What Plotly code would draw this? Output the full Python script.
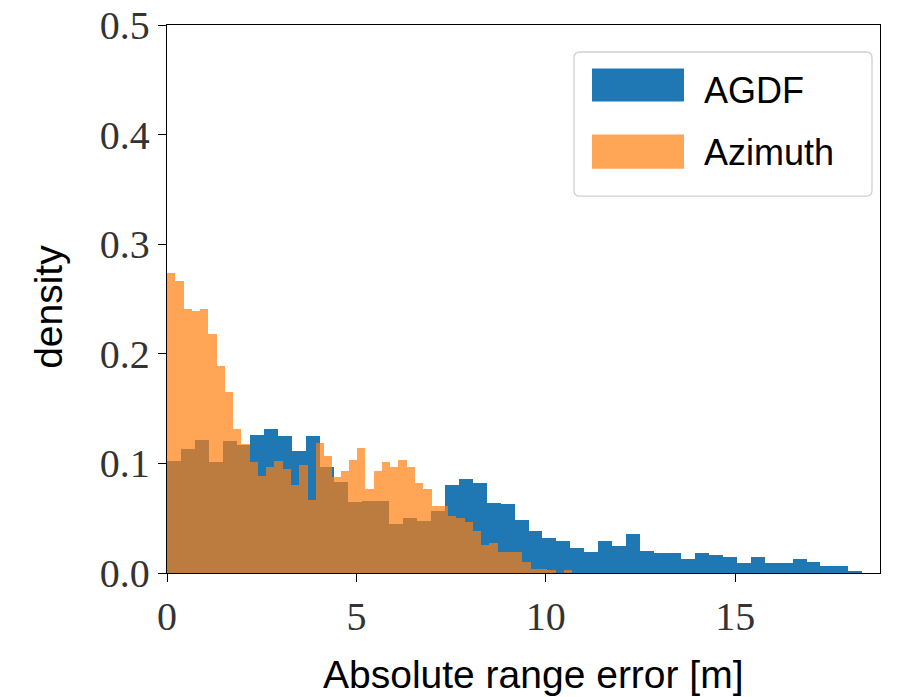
import numpy as np
import plotly.graph_objects as go

# ---- data (densities) ----
agdf_density = [
    0.102, 0.113, 0.121, 0.101, 0.120, 0.117, 0.126, 0.131, 0.125, 0.111,
    0.125, 0.097, 0.083, 0.065, 0.066, 0.066, 0.045, 0.050, 0.047, 0.057,
    0.080, 0.086, 0.082, 0.064, 0.063, 0.048, 0.038, 0.032, 0.029, 0.0225,
    0.0194, 0.0289, 0.0243, 0.036, 0.0197, 0.0185, 0.0185, 0.013, 0.0178, 0.0163,
    0.0145, 0.0093, 0.0145, 0.0093, 0.0093, 0.0127, 0.0096, 0.0066, 0.0066, 0.0014,
]
azimuth_density = [
    0.274, 0.266, 0.241, 0.239, 0.241, 0.218, 0.189, 0.165, 0.131, 0.118,
    0.101, 0.0885, 0.0965, 0.1026, 0.095, 0.080, 0.099, 0.0665, 0.1185, 0.107,
    0.088, 0.093, 0.103, 0.114, 0.077, 0.093, 0.101, 0.0965, 0.103, 0.0965,
    0.082, 0.077, 0.061, 0.061, 0.052, 0.0505, 0.0466, 0.038, 0.026, 0.027,
    0.019, 0.019, 0.019, 0.0096, 0.0038, 0.0035, 0.0023, 0.0, 0.003, 0.0,
]
AGDF_BIN_START = 0.0
AGDF_BIN_WIDTH = 0.367
AZ_BIN_START = 0.0
AZ_BIN_WIDTH = 0.2182

x_tick_vals = [0, 5, 10, 15]
y_tick_vals = [0.0, 0.1, 0.2, 0.3, 0.4, 0.5]
series_names = ["AGDF", "Azimuth"]
x_title = "Absolute range error [m]"
y_title = "density"

BLUE = "#1f77b4"
ORANGE = "#ff7f0e"

agdf_centers = AGDF_BIN_START + AGDF_BIN_WIDTH * (np.arange(len(agdf_density)) + 0.5)
az_centers = AZ_BIN_START + AZ_BIN_WIDTH * (np.arange(len(azimuth_density)) + 0.5)

fig = go.Figure()
fig.add_trace(go.Bar(
    x=agdf_centers, y=agdf_density, width=AGDF_BIN_WIDTH, name=series_names[0],
    marker=dict(color=BLUE, line=dict(width=0)), showlegend=False,
))
fig.add_trace(go.Bar(
    x=az_centers, y=azimuth_density, width=AZ_BIN_WIDTH, name=series_names[1],
    marker=dict(color=ORANGE, line=dict(width=0)), opacity=0.7, showlegend=False,
))

# page body has an 8px margin, so the figure is sized/offset to compensate
tick_font = dict(family="Liberation Serif, DejaVu Serif, serif", size=40, color="#333333")
fig.update_layout(
    width=892, height=689,
    margin=dict(l=159, r=20, t=17, b=124, autoexpand=False),
    paper_bgcolor="white", plot_bgcolor="white",
    barmode="overlay", bargap=0,
    xaxis=dict(
        range=[0, 18.82], tickvals=x_tick_vals, ticktext=[str(v) for v in x_tick_vals],
        ticks="outside", ticklen=8, tickwidth=1.3, tickcolor="black",
        showline=True, linecolor="black", linewidth=1.3, mirror=True,
        showgrid=False, zeroline=False, tickfont=tick_font, automargin=False,
        ticklabeloverflow="allow",
    ),
    yaxis=dict(
        range=[0, 0.5], tickvals=y_tick_vals, ticktext=[f"{v:.1f}" for v in y_tick_vals],
        ticks="outside", ticklen=8, tickwidth=1.3, tickcolor="black",
        showline=True, linecolor="black", linewidth=1.3, mirror=True,
        showgrid=False, zeroline=False, tickfont=tick_font, automargin=False,
        ticklabeloverflow="allow",
    ),
    font=dict(family="Liberation Sans, Arial, sans-serif", color="black"),
)

# axis titles
fig.add_annotation(text=x_title, xref="paper", yref="paper", x=0.514, y=-0.186,
                   showarrow=False, font=dict(size=39, family="Liberation Sans, Arial, sans-serif"),
                   xanchor="center", yanchor="middle")
fig.add_annotation(text=y_title, xref="paper", yref="paper", x=-0.166, y=0.485,
                   showarrow=False, textangle=-90,
                   font=dict(size=39, family="Liberation Sans, Arial, sans-serif"),
                   xanchor="center", yanchor="middle")

# legend (drawn manually to match the large matplotlib patches)
def px_x(p):
    return (p - 167) / 713.0

def px_y(p):
    return (572.5 - p) / 547.5

x0, x1, y0, y1 = px_x(574), px_x(872), px_y(52), px_y(196)
rx, ry = 6 / 713.0, 6 / 547.5
path = (f"M {x0+rx},{y0} L {x1-rx},{y0} Q {x1},{y0} {x1},{y0-ry} "
        f"L {x1},{y1+ry} Q {x1},{y1} {x1-rx},{y1} L {x0+rx},{y1} "
        f"Q {x0},{y1} {x0},{y1+ry} L {x0},{y0-ry} Q {x0},{y0} {x0+rx},{y0} Z")
fig.add_shape(type="path", path=path, xref="paper", yref="paper",
              line=dict(color="#d0d0d0", width=1.3), fillcolor="rgba(255,255,255,0.8)")
legend_rows = [(series_names[0], BLUE, 1.0, 68.5, 101.5, 90),
               (series_names[1], ORANGE, 0.7, 134.5, 168.5, 152)]
for name, col, op, ty, by, cy in legend_rows:
    fig.add_shape(type="rect", xref="paper", yref="paper",
                  x0=px_x(592), x1=px_x(684), y0=px_y(by), y1=px_y(ty),
                  line=dict(width=0), fillcolor=col, opacity=op)
    fig.add_annotation(text=name, xref="paper", yref="paper", x=px_x(702), y=px_y(cy),
                       showarrow=False, xanchor="left", yanchor="middle",
                       font=dict(size=36, family="Liberation Sans, Arial, sans-serif"))

fig.write_html("out.html")
